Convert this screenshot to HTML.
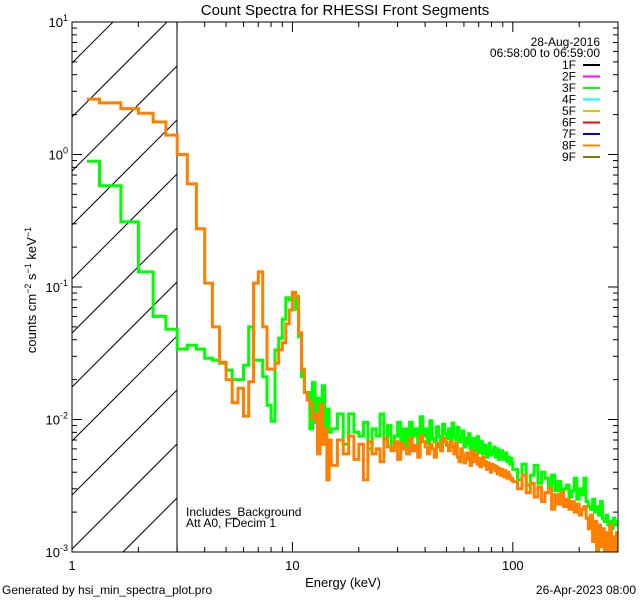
<!DOCTYPE html>
<html><head><meta charset="utf-8"><style>
html,body{margin:0;padding:0;width:640px;height:600px;overflow:hidden;background:#fff}
svg{display:block;font-family:"Liberation Sans",sans-serif;overflow:hidden}
text{fill:#000}
</style></head><body>
<svg id="c" width="640" height="600" viewBox="0 0 640 600">
<defs><clipPath id="pc"><rect x="72" y="22" width="546" height="530"/></clipPath></defs>
<rect x="0" y="0" width="640" height="600" fill="#fff"/>
<text x="345" y="15" font-size="15" text-anchor="middle">Count Spectra for RHESSI Front Segments</text>
<g id="hatch"></g>
<line x1="177" y1="22" x2="177" y2="552" stroke="#000" stroke-width="1"/>
<g id="series" clip-path="url(#pc)"></g>
<rect x="72" y="22" width="546" height="530" fill="none" stroke="#000" stroke-width="1"/>
<g id="axes"></g>
<text transform="translate(36,290) rotate(-90)" font-size="13" text-anchor="middle">counts cm<tspan dy="-5" font-size="9">−2</tspan><tspan dy="5"> s</tspan><tspan dy="-5" font-size="9">−1</tspan><tspan dy="5"> keV</tspan><tspan dy="-5" font-size="9">−1</tspan></text>
<text x="343" y="587" font-size="13" text-anchor="middle">Energy (keV)</text>
<text x="2" y="594" font-size="12">Generated by hsi_min_spectra_plot.pro</text>
<text x="636" y="594" font-size="12" text-anchor="end">26-Apr-2023 08:00</text>
<text x="186" y="516" font-size="12">Includes_Background</text>
<text x="186" y="527" font-size="12">Att A0, FDecim 1</text>
<text x="600" y="46" font-size="12" text-anchor="end">28-Aug-2016</text>
<text x="600" y="57" font-size="12" text-anchor="end">06:58:00 to 06:59:00</text>
<g id="legend"></g>
</svg>
<script>
const segNames = ['1F','2F','3F','4F','5F','6F','7F','8F','9F'];
const segColors = ['#000000','#ff00ff','#00ff00','#00ffff','#cccc00','#ff0000','#0000ff','#ff8000','#808000'];
const xTicks = [1,10,100];
const xTickLabels = ['1','10','100'];
const yTickExps = [1,0,-1,-2,-3];
const greenVals = [0.89,0.58,0.31,0.13,0.06,0.048,
0.034,0.0363,0.034,0.029,0.028,0.0266,0.0236,0.020,0.020,0.0257,0.050,0.028,0.028,0.021,0.0128,0.0097,0.0335,0.041,0.057,0.083,0.08,0.091,0.068,0.042,0.021,0.016,
0.016,0.0085,0.019,0.0095,0.0145,0.0095,0.018,0.0085,0.012,0.008,
0.0085,0.011,0.0065,0.011,0.008,0.0075,0.0095,0.006,0.0085,0.0075,0.011,0.007,0.009,0.006,0.0075,0.0095,0.0065,0.0085,0.0062,0.0095,0.0075,0.0085,0.0065,0.0105,0.0075,0.0085,0.0066,0.0098,0.0072,0.0068,0.0088,0.0075,0.0062,0.0092,0.0078,0.0072,0.0085,0.0065,0.0094,0.0075,0.007,0.0087,0.0068,0.0074,0.0082,0.0062,0.0072,0.0065,0.0078,0.006,0.0068,0.0072,0.0058,0.0066,0.0074,0.0056,0.0062,0.0068,0.0055,0.0064,0.006,0.0052,0.0062,0.0066,0.0054,0.0058,0.0056,0.0062,0.0052,0.0056,0.006,0.005,0.0056,0.0053,0.0058,0.005,0.0054,0.005,0.0056,0.0048,0.0052,0.0049,0.0046,0.0051,0.0047,
0.0042,0.0035,0.0046,0.0032,0.0038,0.0045,0.0033,0.004,0.0036,0.0031,0.0038,0.0029,0.0034,0.0027,0.003,0.0032,0.0026,0.0029,0.0036,0.0025,0.003,0.0027,0.0036,0.0024,0.0022,0.0021,0.0025,0.002,0.0022,0.0019,0.0024,0.0018,0.0017,0.0019,0.0016,0.0017,0.0015,0.0018,0.0016,0.0017];
const orangeVals = [2.62,2.45,2.22,2.05,1.76,1.40,
1.0,0.6,0.275,0.107,0.050,0.027,0.020,0.0134,0.0172,0.0106,0.0193,0.107,0.130,0.050,0.024,0.024,0.0266,0.0335,0.038,0.0527,0.067,0.091,0.085,0.045,0.024,0.016,
0.014,0.013,0.010,0.011,0.0055,0.013,0.0065,0.0085,0.0035,0.007,
0.0045,0.007,0.0055,0.0075,0.005,0.0065,0.0035,0.0068,0.0055,0.006,0.0048,0.0072,0.0062,0.0058,0.0068,0.005,0.0066,0.006,0.0055,0.0072,0.0058,0.0064,0.0052,0.0075,0.0068,0.0062,0.0055,0.0065,0.006,0.0052,0.0066,0.0062,0.0058,0.0072,0.0068,0.0064,0.0058,0.0068,0.0062,0.0055,0.0066,0.0052,0.0048,0.006,0.0055,0.0047,0.005,0.0056,0.0052,0.0045,0.0058,0.005,0.0048,0.0055,0.0046,0.0051,0.0044,0.0048,0.0052,0.0045,0.0048,0.0042,0.0047,0.0044,0.004,0.0046,0.0043,0.0045,0.0041,0.0044,0.0039,0.0043,0.0041,0.0038,0.0042,0.004,0.0037,0.0041,0.0039,0.0036,0.004,0.0038,0.0037,0.0035,0.0036,
0.0034,0.003,0.0038,0.0028,0.0033,0.0026,0.0031,0.0024,0.0028,0.003,0.0021,0.0027,0.0023,0.0028,0.0022,0.0025,0.0021,0.0024,0.002,0.0023,0.0019,0.0021,0.0022,0.0018,0.0015,0.0019,0.0012,0.0017,0.001,0.0016,0.0011,0.0015,0.0009,0.0014,0.001,0.0016,0.0009,0.0013,0.0009,0.0014];

const NS='http://www.w3.org/2000/svg';
const X0=72,X1=618,Y0=22,Y1=552;
const xLo=0,xHi=Math.log10(300);
function xs(e){return X0+(Math.log10(e)-xLo)/(xHi-xLo)*(X1-X0);}
function ys(v){return Y0+(1-Math.log10(v))/4*(Y1-Y0);}
function mk(tag,attrs,parent){const el=document.createElementNS(NS,tag);for(const k in attrs)el.setAttribute(k,attrs[k]);parent.appendChild(el);return el;}

const edges=[1.17];
for(let k=4;k<=45;k++)edges.push(k/3);
for(let e=16;e<=100;e++)edges.push(e);
for(let e=105;e<=320;e+=5)edges.push(e);

const series=document.getElementById('series');
function drawSeries(vals,color,name){
  let d='';
  for(let i=0;i<vals.length&&i+1<edges.length;i++){
    const xa=Math.min(X1,xs(edges[i])),xb=Math.min(X1,xs(edges[i+1])),y=Math.min(Y1,Math.max(Y0,ys(vals[i])));
    d+=(i===0?'M':'L')+xa.toFixed(1)+','+y.toFixed(1)+'L'+xb.toFixed(1)+','+y.toFixed(1);
  }
  const p=mk('path',{d:d,fill:'none',stroke:color,'stroke-width':3,'stroke-linejoin':'miter'},series);
  
  
}
drawSeries(greenVals,'#00ff00','series-3f');
drawSeries(orangeVals,'#ff8000','series-8f');

// hatching, clipped analytically to x in [72,177], y in [22,552]
const hatch=document.getElementById('hatch');
for(let c=-400;c<=700;c+=54){
  const b=85+c; // y at x=72; line y = b - (x-72)
  let xa=72, xb=177;
  // y must be <= 552 -> x >= 72 + b - 552
  xa=Math.max(xa,72+b-552);
  // y must be >= 22 -> x <= 72 + b - 22
  xb=Math.min(xb,72+b-22);
  if(xb<=xa)continue;
  const ln=mk('line',{x1:xa,y1:b-(xa-72),x2:xb,y2:b-(xb-72),stroke:'#000','stroke-width':1},hatch);
  
  
}

const axes=document.getElementById('axes');
for(let dec=0;dec<3;dec++){
  for(let m=1;m<=9;m++){
    const e=Math.pow(10,dec)*m; if(e>300)break;
    const x=xs(e),len=m===1?10:5;
    const t1=mk('line',{x1:x,y1:Y1,x2:x,y2:Y1-len,stroke:'#000'},axes);
    
    
    const t2=mk('line',{x1:x,y1:Y0,x2:x,y2:Y0+len,stroke:'#000'},axes);
    
    
  }
}
xTicks.forEach((v,i)=>{
  const t=mk('text',{x:xs(v),y:570,'font-size':13,'text-anchor':'middle'},axes);
  t.textContent=xTickLabels[i];
  
  
});
for(let ex=-3;ex<1;ex++){
  for(let m=1;m<=9;m++){
    const y=ys(Math.pow(10,ex)*m),len=m===1?10:5;
    const a=mk('line',{x1:X0,y1:y,x2:X0+len,y2:y,stroke:'#000'},axes);
    
    
    const b=mk('line',{x1:X1,y1:y,x2:X1-len,y2:y,stroke:'#000'},axes);
    
    
  }
}
yTickExps.forEach(ex=>{
  const y=ys(Math.pow(10,ex));
  const t=mk('text',{x:X0-4,y:y+5,'font-size':13,'text-anchor':'end'},axes);
  t.innerHTML='10<tspan dy="-6" font-size="9">'+ex+'</tspan>';
  
  
});

const lg=document.getElementById('legend');
segNames.forEach((n,i)=>{
  const y=65+i*11.5;
  const t=mk('text',{x:576,y:y+4,'font-size':12,'text-anchor':'end'},lg);
  t.textContent=n;
  
  
  const l=mk('line',{x1:583,y1:y,x2:600,y2:y,stroke:segColors[i],'stroke-width':2},lg);
  
  
});
</script>
</body></html>
